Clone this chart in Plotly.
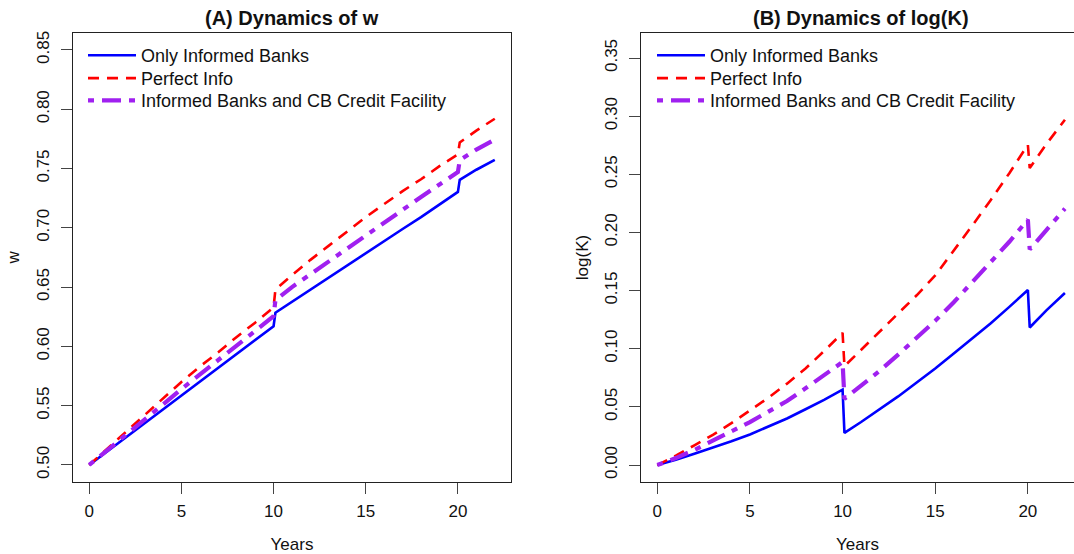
import plotly.graph_objects as go

# ---------------- data ----------------
years = [0, 1, 2, 3, 4, 5, 6, 7, 8, 9, 10, 10.1, 11, 12, 13, 14, 15, 16, 17, 18, 19, 20, 20.1, 21, 22]

w_only_informed = [0.500, 0.5117, 0.5234, 0.5351, 0.5468, 0.5585, 0.5702, 0.5819, 0.5936, 0.6053, 0.6170,
                   0.6284, 0.6377, 0.6480, 0.6583, 0.6685, 0.6788, 0.6890, 0.6990, 0.7090, 0.7195, 0.7303,
                   0.7405, 0.7490, 0.7574]
w_perfect_info = [0.500, 0.514, 0.528, 0.542, 0.556, 0.570, 0.583, 0.595, 0.608, 0.620, 0.633,
                  0.648, 0.660, 0.673, 0.685, 0.697, 0.709, 0.720, 0.731, 0.741, 0.752, 0.762,
                  0.772, 0.782, 0.792]
w_cb_facility = [0.500, 0.5125, 0.525, 0.5375, 0.551, 0.564, 0.576, 0.589, 0.601, 0.613, 0.6255,
                 0.639, 0.650, 0.661, 0.672, 0.683, 0.694, 0.705, 0.716, 0.726, 0.7365, 0.747,
                 0.757, 0.766, 0.7745]

logk_only_informed = [0.0, 0.0045, 0.0098, 0.015, 0.0205, 0.0263, 0.033, 0.040, 0.048, 0.056, 0.0648,
                      0.0276, 0.037, 0.048, 0.059, 0.071, 0.083, 0.096, 0.109, 0.122, 0.136, 0.1505,
                      0.1183, 0.133, 0.148]
logk_perfect_info = [0.0, 0.008, 0.017, 0.026, 0.036, 0.047, 0.058, 0.070, 0.083, 0.098, 0.1137,
                     0.0850, 0.099, 0.114, 0.130, 0.146, 0.163, 0.184, 0.206, 0.228, 0.251, 0.2754,
                     0.2554, 0.276, 0.2970]
logk_cb_facility = [0.0, 0.006, 0.013, 0.021, 0.028, 0.037, 0.046, 0.055, 0.066, 0.077, 0.0886,
                    0.0569, 0.068, 0.081, 0.095, 0.109, 0.124, 0.140, 0.157, 0.174, 0.192, 0.2111,
                    0.1854, 0.202, 0.2205]

series_names = ["Only Informed Banks", "Perfect Info", "Informed Banks and CB Credit Facility"]
panel_titles = ["(A) Dynamics of w", "(B) Dynamics of log(K)"]
x_title = "Years"
y_titles = ["w", "log(K)"]
w_ticks = [0.50, 0.55, 0.60, 0.65, 0.70, 0.75, 0.80, 0.85]
logk_ticks = [0.00, 0.05, 0.10, 0.15, 0.20, 0.25, 0.30, 0.35]
year_ticks = [0, 5, 10, 15, 20]

# ---------------- styles / layout ----------------
FONT = "Liberation Sans, Arial, Helvetica, sans-serif"
W, H = 1074, 554
styles = [
    dict(color="#0000FF", width=2.6, dash="solid"),
    dict(color="#FF0000", width=2.6, dash="11px,8px"),
    dict(color="#A020F0", width=4.2, dash="6px,8px,19px,8px"),
]

def px_x(p):
    return p / W

def px_y(p):
    return 1 - p / H

fig = go.Figure()

left_series = [w_only_informed, w_perfect_info, w_cb_facility]
right_series = [logk_only_informed, logk_perfect_info, logk_cb_facility]
row_centers = [53.8, 76.7, 99.0]

legend_layouts = {}
for i, ys in enumerate(left_series):
    key = "legend" if i == 0 else f"legend{i + 1}"
    fig.add_trace(go.Scatter(x=years, y=ys, mode="lines", name=series_names[i],
                             line=styles[i], xaxis="x", yaxis="y", legend=key))
    legend_layouts[key] = dict(x=px_x(83), y=px_y(row_centers[i]), xanchor="left", yanchor="middle",
                               bgcolor="rgba(0,0,0,0)", borderwidth=0,
                               font=dict(family=FONT, size=18, color="#111"), itemwidth=48)
for i, ys in enumerate(right_series):
    key = f"legend{i + 4}"
    fig.add_trace(go.Scatter(x=years, y=ys, mode="lines", name=series_names[i],
                             line=styles[i], xaxis="x2", yaxis="y2", legend=key))
    legend_layouts[key] = dict(x=px_x(652), y=px_y(row_centers[i]), xanchor="left", yanchor="middle",
                               bgcolor="rgba(0,0,0,0)", borderwidth=0,
                               font=dict(family=FONT, size=18, color="#111"), itemwidth=48)

y_dom = [px_y(481.3), px_y(31.5)]

common_x = dict(
    tickmode="array", tickvals=year_ticks, ticktext=[str(t) for t in year_ticks],
    ticks="outside", ticklen=11, tickwidth=1.2, tickcolor="#444",
    showline=True, linecolor="#222", linewidth=1.4,
    showgrid=False, zeroline=False,
    tickfont=dict(family=FONT, size=17, color="#111"),
    ticklabelstandoff=3,
    title=dict(text=x_title, font=dict(family=FONT, size=17, color="#111"), standoff=18),
)
common_y = dict(
    ticks="outside", ticklen=11, tickwidth=1.2, tickcolor="#444",
    showline=True, linecolor="#222", linewidth=1.4,
    showgrid=False, zeroline=False,
    tickangle=-90,
    tickfont=dict(family=FONT, size=17, color="#111"),
    ticklabelstandoff=5,
)

fig.update_layout(
    width=W, height=H,
    paper_bgcolor="white", plot_bgcolor="white",
    margin=dict(l=0, r=0, t=0, b=0),
    font=dict(family=FONT, size=17, color="#111"),
    xaxis=dict(common_x, domain=[px_x(73), px_x(511)], range=[-0.88, 22.88], mirror=True, anchor="y"),
    yaxis=dict(common_y, domain=y_dom, range=[0.486, 0.864], mirror=True, anchor="x",
               tickvals=w_ticks, ticktext=[f"{v:.2f}" for v in w_ticks],
               title=dict(text=y_titles[0], font=dict(family=FONT, size=17, color="#111"), standoff=10)),
    xaxis2=dict(common_x, domain=[px_x(641), 1.0], range=[-0.88, 22.49], mirror=True, anchor="y2"),
    yaxis2=dict(common_y, domain=y_dom, range=[-0.0142, 0.3712], mirror=False, anchor="x2",
                tickvals=logk_ticks, ticktext=[f"{v:.2f}" for v in logk_ticks],
                title=dict(text=y_titles[1], font=dict(family=FONT, size=17, color="#111"), standoff=9)),
    showlegend=True,
    annotations=[
        dict(text="<b>" + panel_titles[0] + "</b>", x=(px_x(73) + px_x(511)) / 2, y=px_y(16),
             xref="paper", yref="paper", showarrow=False, xanchor="center", yanchor="middle",
             font=dict(family=FONT, size=20, color="#111")),
        dict(text="<b>" + panel_titles[1] + "</b>", x=px_x(861.5), y=px_y(16),
             xref="paper", yref="paper", showarrow=False, xanchor="center", yanchor="middle",
             font=dict(family=FONT, size=20, color="#111")),
    ],
    **legend_layouts,
)

# remove the browser's default 8px body margin so the figure fills the window exactly
fig.write_html("out.html", config={"displayModeBar": False},
               post_script="document.body.style.margin='0';")
